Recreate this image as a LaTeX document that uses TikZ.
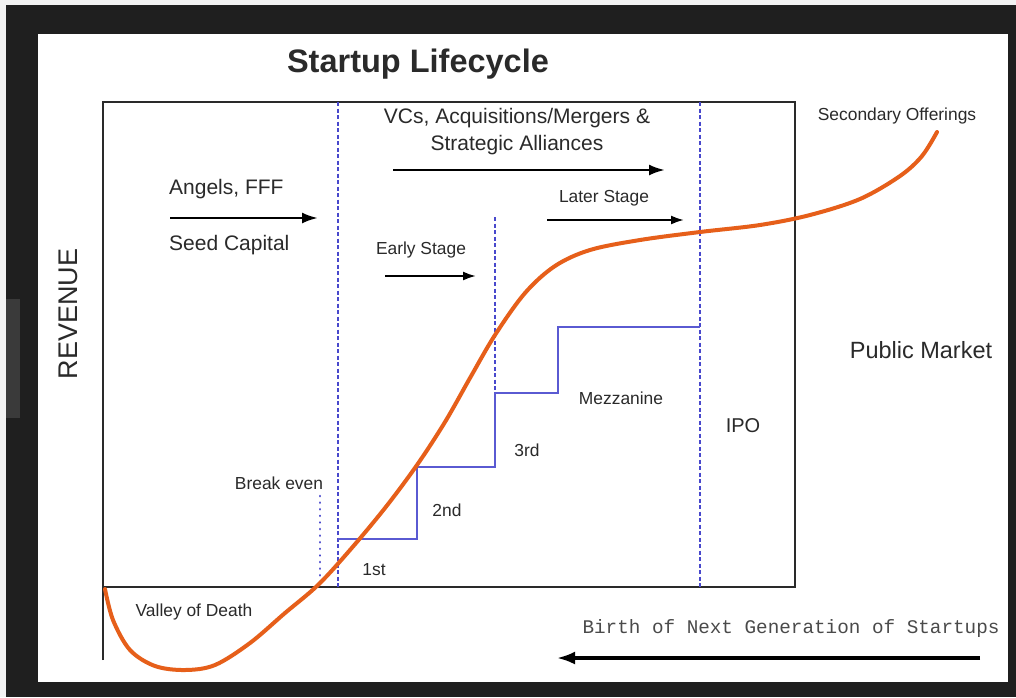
\documentclass[tikz,border=0pt]{standalone}
\usepackage{fontspec}
\setmainfont{Liberation Sans}
\setmonofont{Liberation Mono}
\usetikzlibrary{arrows.meta}
\definecolor{framec}{HTML}{1F1F1F}
\definecolor{tabc}{HTML}{3A3A3A}
\definecolor{txt}{HTML}{2A2A2A}
\definecolor{curvec}{HTML}{E65F1A}
\definecolor{stepc}{HTML}{5A5AD2}
\definecolor{dashc}{HTML}{4848CC}
\tikzset{
  lbl/.style={inner sep=0pt, text=txt, font=\fontsize{17.4}{20}\selectfont},
  biglbl/.style={inner sep=0pt, text=txt, font=\fontsize{21}{26}\selectfont},
  axisline/.style={draw=txt, line width=2pt},
  stageline/.style={draw=dashc, line width=1.4pt, dash pattern=on 4pt off 2.5pt},
  evenline/.style={draw=dashc, line width=2.6pt, dash pattern=on 0.1pt off 6.5pt, line cap=round},
  roundline/.style={draw=stepc, line width=2pt},
  flowarrow/.style={draw=black, line width=2.6pt, -{Latex[length=16pt,width=11pt]}},
  growth/.style={draw=curvec, line width=4pt, line cap=round}
}
\begin{document}
\begin{tikzpicture}[x=1pt,y=-1pt]
\useasboundingbox (0,0) rectangle (1016,697);
% backdrop
\fill[framec] (0,0) rectangle (1016,697);
\fill[white!95!black] (0,0) rectangle (1016,5);
\fill[white!95!black] (0,0) rectangle (6,697);
\fill[tabc] (6,299) rectangle (20,418);
\fill[white] (38,34) rectangle (1008,682);

% axes and box
\coordinate (tl) at (103,102);
\coordinate (tr) at (795,102);
\coordinate (br) at (795,587);
\coordinate (bl) at (103,587);
\coordinate (axbot) at (103,660);
\draw[axisline] (axbot) -- (tl) -- (tr) -- (br) -- (bl);

% stage separators
\coordinate (s1t) at (338,102); \coordinate (s1b) at (338,587);
\coordinate (s2t) at (700,102); \coordinate (s2b) at (700,587);
\coordinate (s3t) at (495,217); \coordinate (s3b) at (495,393);
\draw[stageline] (s1t) -- (s1b);
\draw[stageline] (s2t) -- (s2b);
\draw[stageline] (s3t) -- (s3b);
\coordinate (bet) at (320,496); \coordinate (beb) at (320,586);
\draw[evenline] (bet) -- (beb);

% funding rounds
\coordinate (r0) at (338,539);
\coordinate (r1) at (417,539);
\coordinate (r2) at (417,467);
\coordinate (r3) at (495,467);
\coordinate (r4) at (495,393);
\coordinate (r5) at (558,393);
\coordinate (r6) at (558,327);
\coordinate (r7) at (700,327);
\draw[roundline] (r0) -- (r1) -- (r2) -- (r3) -- (r4) -- (r5) -- (r6) -- (r7);

% arrows
\coordinate (a1s) at (170,218); \coordinate (a1e) at (318,218);
\coordinate (a2s) at (393,170); \coordinate (a2e) at (665,170);
\coordinate (a3s) at (547,220); \coordinate (a3e) at (684,220);
\coordinate (a4s) at (385,276); \coordinate (a4e) at (476,276);
\coordinate (a5s) at (980,658); \coordinate (a5e) at (557,658);
\draw[flowarrow] (a1s) -- (a1e);
\draw[flowarrow] (a2s) -- (a2e);
\draw[flowarrow, line width=2pt, -{Latex[length=13pt,width=9pt]}] (a3s) -- (a3e);
\draw[flowarrow, line width=2pt, -{Latex[length=13pt,width=9pt]}] (a4s) -- (a4e);
\draw[flowarrow, line width=3.2pt, -{Latex[length=18pt,width=13pt]}] (a5s) -- (a5e);

% growth curve
\draw[growth] plot[smooth, tension=0.55] coordinates {
 (105,589) (113,620) (130,650) (155,666) (185,670) (215,665) (250,643)
 (285,613) (318,585) (350,550) (385,508) (417,465) (445,422) (470,378)
 (495,335) (525,293) (555,266) (590,250) (640,240) (700,232) (760,225)
 (810,215) (860,199) (900,176) (922,156) (937,132)};

% labels
\node[inner sep=0pt, text=txt, font=\fontsize{32.5}{36}\bfseries\selectfont] (title) at (418,64) {Startup Lifecycle};
\node[biglbl] (vc1) at (517,118) {VCs, Acquisitions/Mergers \&};
\node[biglbl] (vc2) at (517,145) {Strategic Alliances};
\node[biglbl, anchor=west] (angels) at (169,189) {Angels, FFF};
\node[biglbl, anchor=west] (seed) at (169,245) {Seed Capital};
\node[lbl] (later) at (604,198) {Later Stage};
\node[lbl] (early) at (421,250) {Early Stage};
\node[lbl] (second) at (897,116) {Secondary Offerings};
\node[inner sep=0pt, text=txt, font=\fontsize{23.5}{28}\selectfont] (public) at (921,350) {Public Market};
\node[inner sep=0pt, text=txt, font=\fontsize{20}{24}\selectfont] (ipo) at (743,426) {IPO};
\node[lbl] (mezz) at (621,398) {Mezzanine};
\node[lbl] (third) at (527,450) {3rd};
\node[lbl] (sec) at (447,510) {2nd};
\node[lbl] (first) at (374,570) {1st};
\node[lbl] (even) at (279,483) {Break even};
\node[lbl] (valley) at (194,612) {Valley of Death};
\node[inner sep=0pt, text=txt, font=\fontsize{27}{30}\selectfont, rotate=90] (rev) at (68,314) {REVENUE};
\node[inner sep=0pt, text=txt!85!white, font=\fontsize{19.3}{22}\ttfamily] (birth) at (791,628) {Birth of Next Generation of Startups};
\end{tikzpicture}
\end{document}
